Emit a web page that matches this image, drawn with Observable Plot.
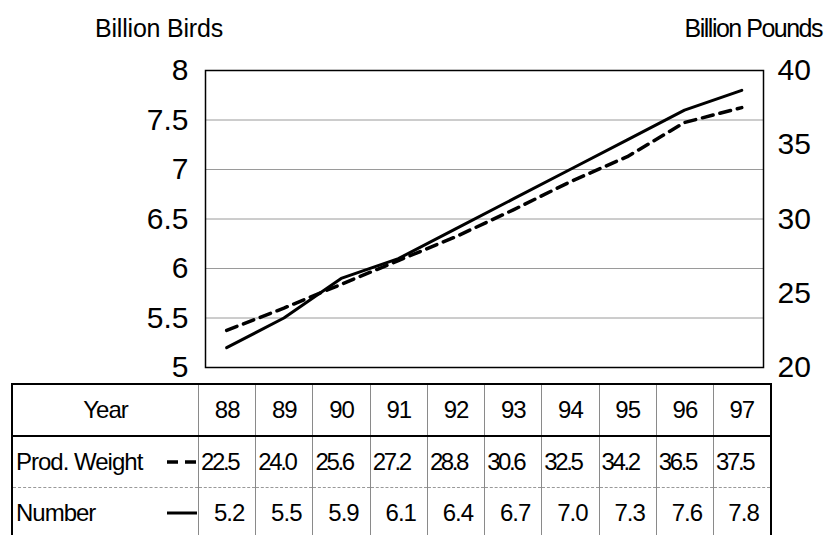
<!DOCTYPE html>
<html>
<head>
<meta charset="utf-8">
<script src="https://cdn.jsdelivr.net/npm/d3@7"></script>
<script src="https://cdn.jsdelivr.net/npm/@observablehq/plot@0.6"></script>
<style>
  html, body { margin: 0; padding: 0; background: #fff; }
  #wrap { position: relative; width: 825px; height: 535px; overflow: hidden; background: #fff;
          font-family: "Liberation Sans", Arial, sans-serif; color: #000; }
  #wrap > svg { position: absolute; left: 0; top: 0; }
  .unit { position: absolute; top: 16px; font-size: 25px; line-height: 25px; white-space: nowrap; }
  #ulLeft { left: 95px; letter-spacing: -0.2px; }
  #ulRight { right: 3px; letter-spacing: -1.5px; }
  table { position: absolute; left: 11px; top: 383px; border-collapse: collapse; table-layout: fixed;
          font-size: 24px; letter-spacing: -1px; }
  td { padding: 0; height: 50px; white-space: nowrap; overflow: visible; border-left: 1px solid #8a8a8a; }
  td.first { border-left: 2px solid #000; }
  td.last { border-right: 2px solid #000; }
  tr.head td { border-top: 2px solid #000; border-bottom: 2px solid #000; text-align: center; }
  tr.wt td { border-bottom: 1px dashed #999; }
  tr.wt td.val { text-align: left; padding-left: 2px; letter-spacing: -2.4px; }
  tr.num td.val { text-align: right; padding-right: 11px; }
  td.lab { text-align: left; }
  .labwrap { display: flex; align-items: center; justify-content: space-between; padding-left: 3px; padding-right: 1px; }
  .labwrap svg { display: block; }
</style>
</head>
<body>
<div id="wrap">
  <div class="unit" id="ulLeft">Billion Birds</div>
  <div class="unit" id="ulRight">Billion Pounds</div>
</div>
<script>
// ---- data ----
const years = [88, 89, 90, 91, 92, 93, 94, 95, 96, 97];
const numberBirds = [5.2, 5.5, 5.9, 6.1, 6.4, 6.7, 7.0, 7.3, 7.6, 7.8];   // billion birds (left axis)
const prodWeight = [22.5, 24.0, 25.6, 27.2, 28.8, 30.6, 32.5, 34.2, 36.5, 37.5]; // billion pounds (right axis)
const birdTicks = [5, 5.5, 6, 6.5, 7, 7.5, 8];
const poundTicks = [20, 25, 30, 35, 40];
const gridTicks = [5.5, 6, 6.5, 7, 7.5];
const rowLabels = ["Year", "Prod. Weight", "Number"];

const birdDomain = [5, 8];
const poundDomain = [20, 40];
const toBirds = d3.scaleLinear(poundDomain, birdDomain);

const rows = years.map((year, i) => ({ year, number: numberBirds[i], weight: prodWeight[i] }));

const plot = Plot.plot({
  width: 825,
  height: 383,
  marginLeft: 205,
  marginRight: 62,
  marginTop: 70,
  marginBottom: 16,
  style: { fontFamily: "'Liberation Sans', Arial, sans-serif", fontSize: "30px", background: "white", color: "black", overflow: "visible" },
  x: { domain: [87.63, 97.38], axis: null },
  y: { domain: birdDomain, axis: null },
  marks: [
    Plot.ruleY(gridTicks, { stroke: "#9a9a9a", strokeWidth: 1 }),
    Plot.axisY(birdTicks, { anchor: "left", label: null, tickSize: 0, tickPadding: 17, tickFormat: d => String(d), fontSize: 30 }),
    Plot.axisY(poundTicks.map(toBirds), { anchor: "right", label: null, tickSize: 0, tickPadding: 14,
      tickFormat: d => String(Math.round(toBirds.invert(d))), fontSize: 30 }),
    Plot.line(rows, { x: "year", y: d => toBirds(d.weight), stroke: "black", strokeWidth: 3.5, strokeDasharray: "11,7" }),
    Plot.line(rows, { x: "year", y: "number", stroke: "black", strokeWidth: 3 }),
    Plot.frame({ stroke: "black", strokeWidth: 1.5 })
  ]
});
const wrap = document.getElementById("wrap");
wrap.insertBefore(plot, wrap.firstChild);

// ---- table aligned with the x scale ----
const xs = plot.scale("x");
const tableLeft = 11;
const edges = [...years.map(y => xs.apply(y - 0.5)), xs.apply(years[years.length - 1] + 0.5)];
const widths = [edges[0] - tableLeft, ...years.map((y, i) => edges[i + 1] - edges[i])];

const table = document.createElement("table");
const colgroup = document.createElement("colgroup");
widths.forEach(w => { const c = document.createElement("col"); c.style.width = w + "px"; colgroup.appendChild(c); });
table.appendChild(colgroup);

function legendSvg(dashed) {
  const ns = "http://www.w3.org/2000/svg";
  const s = document.createElementNS(ns, "svg");
  s.setAttribute("width", 30); s.setAttribute("height", 10);
  const l = document.createElementNS(ns, "line");
  l.setAttribute("x1", 0); l.setAttribute("x2", 30); l.setAttribute("y1", 5); l.setAttribute("y2", 5);
  l.setAttribute("stroke", "black");
  l.setAttribute("stroke-width", dashed ? 3.5 : 3);
  if (dashed) l.setAttribute("stroke-dasharray", "11,7");
  s.appendChild(l);
  return s;
}

function makeRow(cls, label, values, legend) {
  const tr = document.createElement("tr");
  tr.className = cls;
  const td0 = document.createElement("td");
  td0.className = "first lab";
  if (legend === null) {
    td0.style.textAlign = "center";
    td0.textContent = label;
  } else {
    const w = document.createElement("div");
    w.className = "labwrap";
    const sp = document.createElement("span");
    sp.textContent = label;
    w.appendChild(sp);
    w.appendChild(legendSvg(legend === "dashed"));
    td0.appendChild(w);
  }
  tr.appendChild(td0);
  values.forEach((v, i) => {
    const td = document.createElement("td");
    td.className = "val" + (i === values.length - 1 ? " last" : "");
    td.textContent = v;
    tr.appendChild(td);
  });
  return tr;
}

const fmt1 = d3.format(".1f");
table.appendChild(makeRow("head", rowLabels[0], years.map(String), null));
table.appendChild(makeRow("wt", rowLabels[1], prodWeight.map(fmt1), "dashed"));
table.appendChild(makeRow("num", rowLabels[2], numberBirds.map(fmt1), "solid"));
wrap.appendChild(table);
</script>
</body>
</html>
